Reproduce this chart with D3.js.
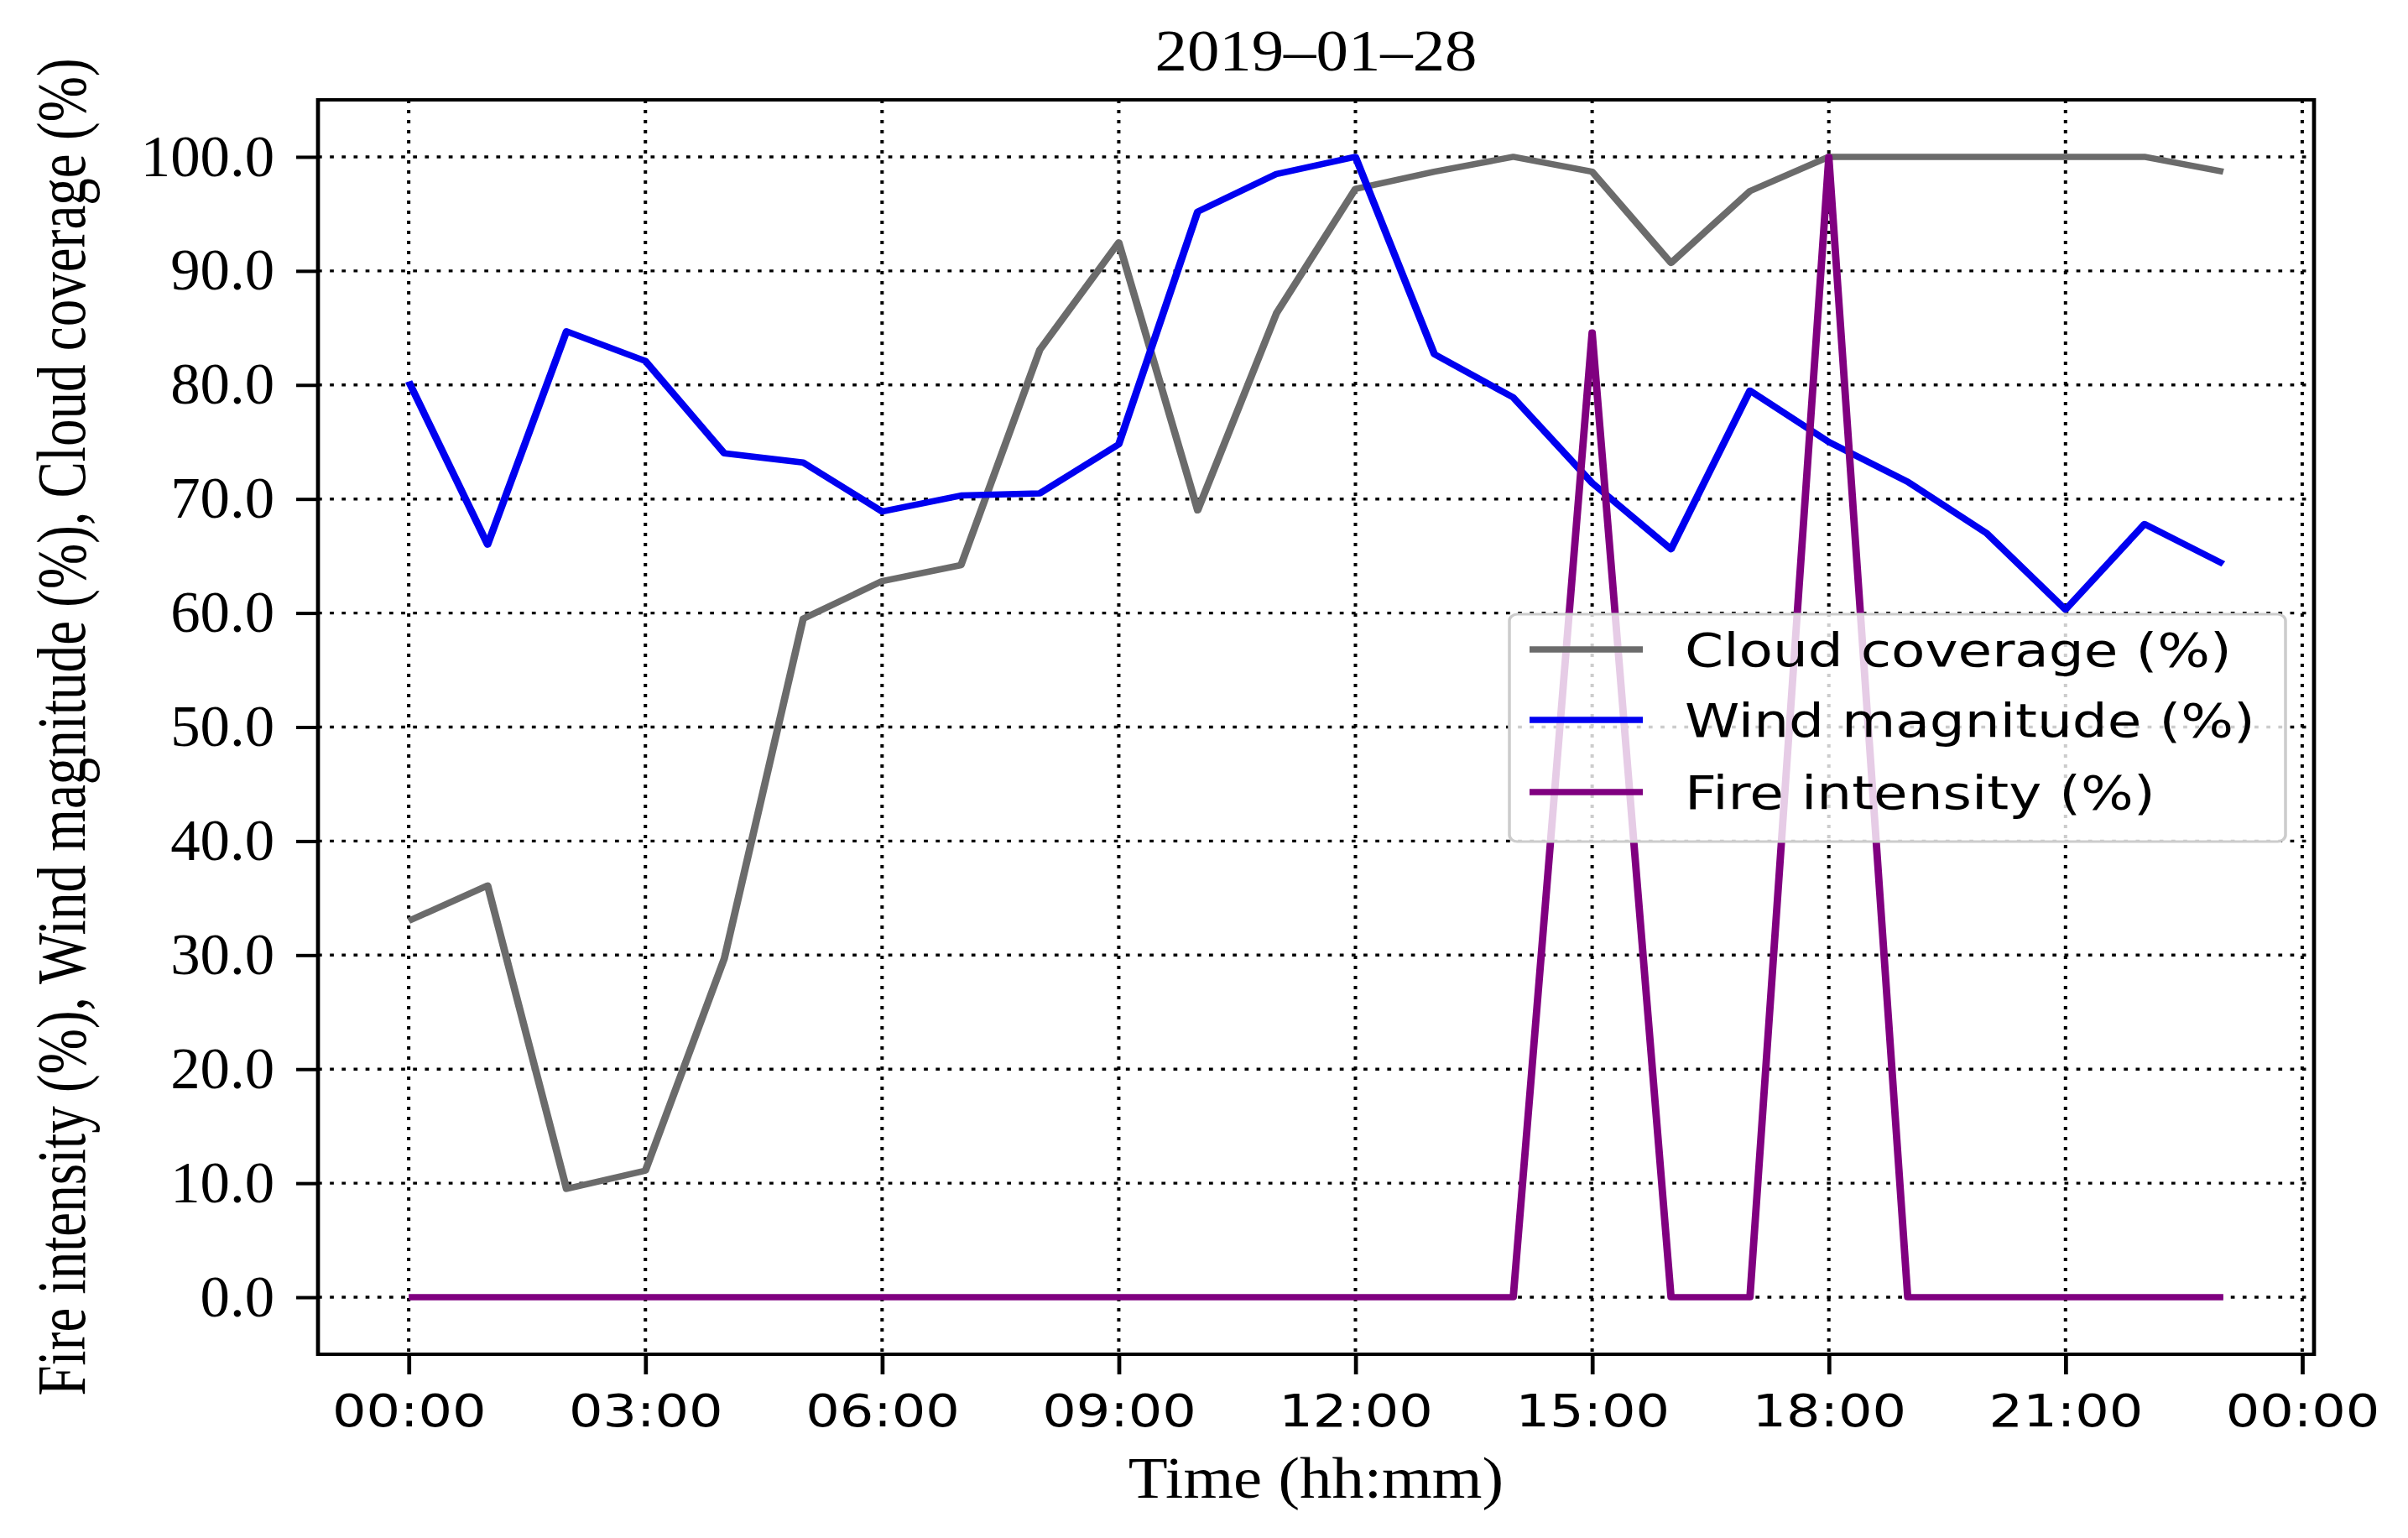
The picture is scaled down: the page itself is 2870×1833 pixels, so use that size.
<!DOCTYPE html>
<meta charset="utf-8">
<style>
  body { margin: 0; background: #fff; }
</style>
<body>
<svg id="chart"></svg>
<script src="https://d3js.org/d3.v7.min.js"></script>
<script>

// hourly readings for 2019-01-28
var hours = [0,1,2,3,4,5,6,7,8,9,10,11,12,13,14,15,16,17,18,19,20,21,22,23];
var cloud = [33.0,36.1,9.5,11.1,29.7,59.5,62.8,64.2,83.1,92.5,69.0,86.3,97.2,98.7,100,98.7,90.7,97.0,100,100,100,100,100,98.7];
var wind  = [80.3,66.0,84.7,82.1,74.0,73.2,68.9,70.3,70.5,74.8,95.2,98.5,100,82.7,78.9,71.4,65.6,79.5,75.0,71.5,67.0,60.3,67.8,64.3];
var fire  = [0,0,0,0,0,0,0,0,0,0,0,0,0,0,0,84.6,0,0,100,0,0,0,0,0];
var seriesNames = ["Cloud coverage (%)", "Wind magnitude (%)", "Fire intensity (%)"];
var yTicks = [0,10,20,30,40,50,60,70,80,90,100];
var titleText = "2019\u201301\u201328";
var xLabel = "Time (hh:mm)";
var yLabel = "Fire intensity (%), Wind magnitude (%), Cloud coverage (%)";

var colors = ["#6b6b6b", "#0000f0", "#800080"];

// the picture is stretched sideways, so draw in a narrower box and stretch it
var SX = 1.18, W = 2870, H = 1833, VW = W / SX;
var svg = d3.select("#chart")
  .attr("width", W).attr("height", H)
  .attr("viewBox", "0 0 " + VW + " " + H)
  .attr("preserveAspectRatio", "none");
svg.append("rect").attr("width", VW).attr("height", H).attr("fill", "#fff");

var pLeft = 379 / SX, pRight = 2758 / SX, pTop = 119, pBottom = 1614;
var serif = "'Liberation Serif', 'Times New Roman', serif";
var sans = "'DejaVu Sans', sans-serif";
// serif text in the source is a bit narrower than Liberation Serif
var condense = 0.93;

var day = new Date(2019, 0, 28, 0, 0);
var hr = 3600 * 1000;
var x = d3.scaleTime()
  .domain([new Date(+day - 1.15 * hr), new Date(+day + 24.15 * hr)])
  .range([pLeft, pRight]);
var y = d3.scaleLinear().domain([-5, 105]).range([pBottom, pTop]);
var xTicks = x.ticks(d3.timeHour.every(3));
var fmt = d3.timeFormat("%H:%M");

// grid
var grid = svg.append("g")
  .attr("stroke", "#000").attr("stroke-width", 3.4)
  .attr("stroke-dasharray", "4,8");
grid.selectAll(".gx").data(xTicks).enter().append("line")
  .attr("x1", function(d) { return x(d); }).attr("x2", function(d) { return x(d); })
  .attr("y1", pTop).attr("y2", pBottom);
grid.selectAll(".gy").data(yTicks).enter().append("line")
  .attr("y1", function(d) { return y(d); }).attr("y2", function(d) { return y(d); })
  .attr("x1", pLeft).attr("x2", pRight);

// lines
var line = d3.line()
  .x(function(d, i) { return x(new Date(+day + hours[i] * hr)); })
  .y(function(d) { return y(d); });
[cloud, wind, fire].forEach(function(s, i) {
  svg.append("path")
    .attr("d", line(s))
    .attr("fill", "none")
    .attr("stroke", colors[i])
    .attr("stroke-width", 7.5)
    .attr("stroke-linejoin", "round");
});

// axes
var xAxis = svg.append("g")
  .attr("transform", "translate(0," + pBottom + ")")
  .call(d3.axisBottom(x).tickValues(xTicks).tickFormat(fmt).tickSize(24).tickPadding(24));
var yAxis = svg.append("g")
  .attr("transform", "translate(" + pLeft + ",0)")
  .call(d3.axisLeft(y).tickValues(yTicks).tickFormat(d3.format(".1f")).tickSize(22).tickPadding(22));
xAxis.select(".domain").remove();
yAxis.select(".domain").remove();
xAxis.selectAll(".tick line").attr("stroke", "#000").attr("stroke-width", 4);
yAxis.selectAll(".tick line").attr("stroke", "#000").attr("stroke-width", 4);
xAxis.selectAll("text").attr("font-family", sans).attr("font-size", 54).attr("fill", "#000");
yAxis.selectAll("text")
  .attr("font-family", serif).attr("font-size", 69).attr("fill", "#000")
  .attr("x", -44 / 0.87)
  .attr("transform", "scale(0.87,1)");

// frame
svg.append("rect")
  .attr("x", pLeft).attr("y", pTop)
  .attr("width", pRight - pLeft).attr("height", pBottom - pTop)
  .attr("fill", "none").attr("stroke", "#000").attr("stroke-width", 4);

// title and labels
var cx = (pLeft + pRight) / 2;
svg.append("text")
  .attr("transform", "translate(" + cx + ",84) scale(" + condense + ",1)")
  .attr("text-anchor", "middle")
  .attr("font-family", serif).attr("font-size", 70)
  .text(titleText);
svg.append("text")
  .attr("transform", "translate(" + cx + ",1785) scale(" + condense + ",1)")
  .attr("text-anchor", "middle")
  .attr("font-family", serif).attr("font-size", 70)
  .text(xLabel);
svg.append("text")
  .attr("transform", "translate(" + (73 / SX) + "," + ((pTop + pBottom) / 2) + ") rotate(-90) scale(" + condense + ",1)")
  .attr("text-anchor", "middle")
  .attr("dominant-baseline", "central")
  .attr("font-family", serif).attr("font-size", 70)
  .text(yLabel);

// legend
var lg = svg.append("g");
lg.append("rect")
  .attr("x", 1799 / SX).attr("y", 732)
  .attr("width", (2724 - 1799) / SX).attr("height", 1003 - 732)
  .attr("rx", 8)
  .attr("fill", "#fff").attr("fill-opacity", 0.8)
  .attr("stroke", "#cccccc").attr("stroke-width", 3);
var rowY = [774, 858, 944];
seriesNames.forEach(function(name, i) {
  lg.append("line")
    .attr("x1", 1823 / SX).attr("x2", 1958 / SX)
    .attr("y1", rowY[i]).attr("y2", rowY[i])
    .attr("stroke", colors[i]).attr("stroke-width", 7.5);
  lg.append("text")
    .attr("x", 2008 / SX).attr("y", rowY[i])
    .attr("dominant-baseline", "central")
    .attr("font-family", sans).attr("font-size", 56)
    .text(name);
});

</script>
</body>
